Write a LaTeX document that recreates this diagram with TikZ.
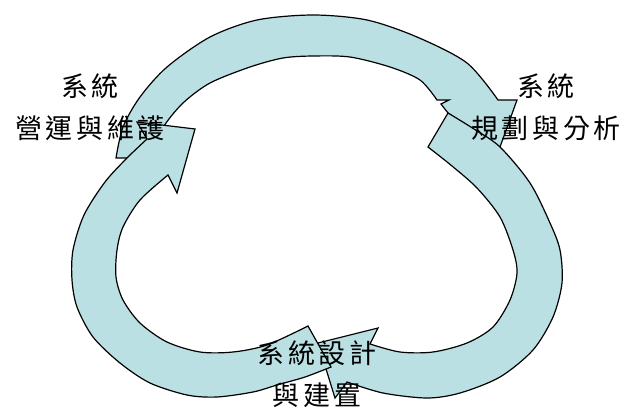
\documentclass[tikz,border=0pt]{standalone}
\usepackage{fontspec}
\newfontfamily\cjk{Noto Sans CJK TC}[LetterSpace=13]
\definecolor{arcfill}{RGB}{187,224,227}
\begin{document}
\begin{tikzpicture}[x=1pt,y=-1pt,
  blockarrow/.style={draw=black, line width=1.2pt, fill=arcfill, line join=miter},
  steplabel/.style={font=\cjk\fontsize{27}{42}\selectfont, align=center, inner sep=0pt}]
\useasboundingbox (0,0) rectangle (627,410);

% top arc: maintenance -> planning
\draw[blockarrow]
  (116,158) -- (157,158)
  -- plot[smooth] coordinates {(157,158) (159,142) (164,126) (183,103) (210,83) (250,67) (283,58) (313,56) (350,57) (390,67) (420,80) (437,100)}
  -- (449,100) -- (441,104) -- (448,113) -- (500,147) -- (517,100) -- (498,100)
  -- plot[smooth] coordinates {(498,100) (467,63) (417,37) (367,20) (313,15) (257,20) (210,37) (167,67) (140,97) (123,127) (116,158)}
  -- cycle;

% right arc: planning -> design
\draw[blockarrow]
  (448,113) -- (428,147)
  -- plot[smooth] coordinates {(428,147) (452,166) (477,188) (500,217) (513,250) (517,273) (510,300) (493,327) (467,343) (433,352) (400,352) (370,344)}
  -- (378,328) -- (318,343) -- (335,398) -- (347,382)
  -- plot[smooth] coordinates {(347,382) (383,393) (427,398) (460,393) (500,377) (533,350) (553,317) (562,283) (560,250) (550,223) (530,183) (500,147) (474,129) (448,113)}
  -- cycle;

% left arc: design -> maintenance
\draw[blockarrow]
  (331,367) -- (308,326)
  -- plot[smooth] coordinates {(308,326) (267,345) (233,352) (200,352) (167,342) (140,323) (123,300) (116,277) (117,250) (123,227) (140,200) (168,175)}
  -- (177,193) -- (195,129) -- (137,122) -- (147,139)
  -- plot[smooth] coordinates {(147,139) (127,158) (105,182) (84,215) (73,250) (72,280) (77,307) (93,337) (120,363) (150,383) (187,395) (217,397) (253,392) (277,385) (305,377) (331,367)}
  -- cycle;

% stage labels
\node[steplabel] (ops)  at (90,107)  {系統\\營運與維護};
\node[steplabel] (plan) at (546,107) {系統\\規劃與分析};
\node[steplabel] (build) at (317,374) {系統設計\\與建置};
\end{tikzpicture}
\end{document}
